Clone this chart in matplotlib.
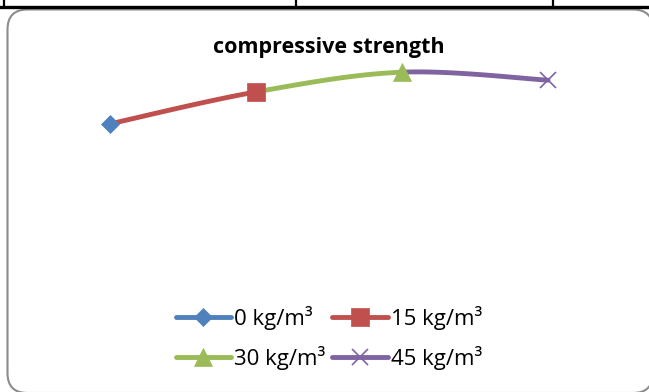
import matplotlib
matplotlib.use("Agg")
import matplotlib.pyplot as plt
import numpy as np
from matplotlib.patches import FancyBboxPatch
from matplotlib.lines import Line2D

categories = ["0 kg/m³", "15 kg/m³", "30 kg/m³", "45 kg/m³"]
strength = [34.8, 42.4, 47.1, 45.2]
colors = ["#4F81BD", "#C0504D", "#9BBB59", "#8064A2"]
markers = ["D", "s", "^", "x"]
msizes = [9, 13, 13, 12]
title = "compressive strength"

W, H = 649, 392
fig = plt.figure(figsize=(W / 100, H / 100), dpi=100)

# table fragment at top
fig.add_artist(Line2D([0, 1], [1 - 6.5 / H, 1 - 6.5 / H], color="black", lw=2.4))
for xp in [3.5, 296, 553]:
    fig.add_artist(Line2D([xp / W, xp / W], [1 - 7 / H, 1], color="black", lw=1.6))

# chart border (rounded, extends beyond right edge)
bx0, bx1, by0, by1 = 7.5, 653, 9.5, 393
border = FancyBboxPatch((bx0, H - by1), bx1 - bx0, by1 - by0,
                        boxstyle="round,pad=0,rounding_size=20",
                        facecolor="white", edgecolor="#8c8c8c", lw=1.5, zorder=-5)
border.set_transform(matplotlib.transforms.IdentityTransform())
fig.add_artist(border)

# axes: x positions 110..548 px, y 0..50 from 270 px to 60 px
x0, x1 = 37, 621
y_bot, y_top = 270, 60
ax = fig.add_axes([x0 / W, 1 - y_bot / H, (x1 - x0) / W, (y_bot - y_top) / H])
ax.set_zorder(2)
ax.set_xlim(0.5, 4.5)
ax.set_ylim(0, 50)
ax.axis("off")

# Excel-like smoothing (Bezier with control points from neighbours)
x = np.arange(1, len(strength) + 1, dtype=float)
y = np.array(strength, dtype=float)
P = np.column_stack([x, y])
n = len(P)
t = np.linspace(0, 1, 60)[:, None]
for i in range(n - 1):
    p0, p3 = P[i], P[i + 1]
    prev = P[i - 1] if i > 0 else P[i]
    nxt = P[i + 2] if i + 2 < n else P[i + 1]
    p1 = p0 + (p3 - prev) / 6
    p2 = p3 - (nxt - p0) / 6
    curve = ((1 - t) ** 3) * p0 + 3 * ((1 - t) ** 2) * t * p1 + 3 * (1 - t) * t ** 2 * p2 + t ** 3 * p3
    ax.plot(curve[:, 0], curve[:, 1], color=colors[i + 1], lw=3.5, solid_capstyle="round", zorder=2)

handles = []
for i in range(n):
    mew = 1.2 if markers[i] == "x" else 0.5
    ax.plot([x[i]], [y[i]], marker=markers[i], color=colors[i], ms=msizes[i],
            mew=mew, mec=colors[i], ls="none", zorder=3, clip_on=False)
    handles.append(Line2D([], [], color=colors[i], lw=3.5, marker=markers[i],
                          ms=msizes[i], mew=mew, mec=colors[i], solid_capstyle="round"))

fig.text(329 / W, 1 - 47 / H, title, ha="center", va="center",
         fontweight="bold", family="Open Sans", fontsize=15.5, zorder=3)

order = [0, 2, 1, 3]
leg = fig.legend([handles[k] for k in order], [categories[k] for k in order],
                 loc="center", bbox_to_anchor=(329 / W, 1 - 338 / H),
                 ncol=2, frameon=False, handlelength=2.5, handletextpad=0.15,
                 columnspacing=0.3, labelspacing=0.72,
                 prop={"family": "Open Sans", "size": 16})
leg.set_zorder(3)

fig.savefig("out.png", dpi=100)
